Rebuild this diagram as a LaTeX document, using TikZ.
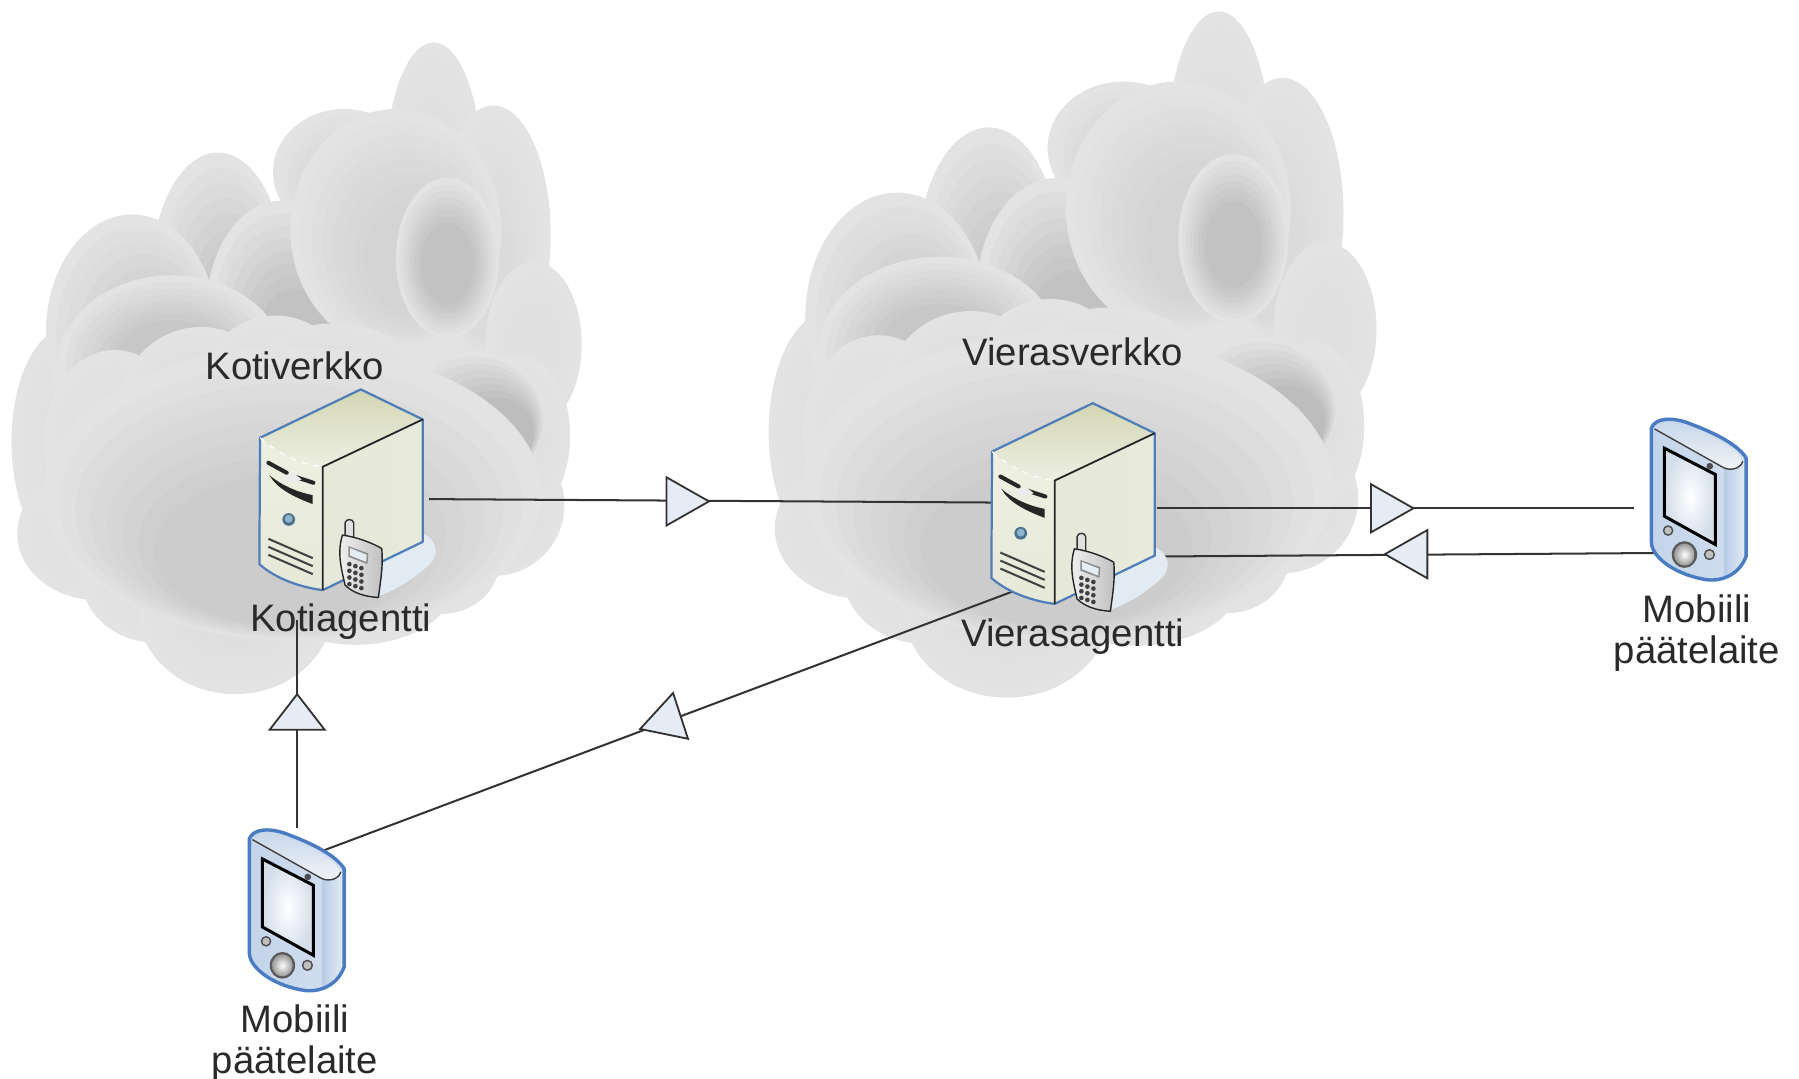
\documentclass[tikz,border=0pt]{standalone}
\usepackage{fontspec}
\setmainfont{Liberation Sans}
\usetikzlibrary{shapes.geometric}
\definecolor{txt}{HTML}{2A2A2A}
\definecolor{wire}{HTML}{333333}
\definecolor{trifill}{HTML}{E6ECF6}
\definecolor{blueedge}{HTML}{4F7DB8}
\definecolor{frontA}{HTML}{EEF0E2}
\definecolor{frontB}{HTML}{E6E9D8}
\definecolor{sideA}{HTML}{E6E9DA}
\definecolor{sideB}{HTML}{E8EBDC}
\definecolor{topA}{HTML}{D3D6B4}
\definecolor{topB}{HTML}{ECEFE2}
\definecolor{knobA}{HTML}{4A6F8A}
\definecolor{knobB}{HTML}{8FB3CC}
\definecolor{pdaA}{HTML}{C3D4EA}
\definecolor{pdaB}{HTML}{D4DFEF}
\definecolor{pdaC}{HTML}{B7CBE6}
\definecolor{pdaD}{HTML}{E6EDF6}
\definecolor{pdaE}{HTML}{C6D6EA}
\definecolor{pdaF}{HTML}{F2F5F7}
\definecolor{pdaG}{HTML}{D4DEEA}
\definecolor{pdaEdge}{HTML}{4A7CC4}
\definecolor{srvShadow}{HTML}{E2EAF3}
\tikzset{
  label text/.style={font=\fontsize{19}{20.1}\selectfont, text=txt, inner sep=0pt, align=center},
  wire line/.style={draw=wire, line width=1pt},
  flow tri/.style={isosceles triangle, isosceles triangle stretches, draw=wire, fill=trifill, line width=0.9pt, inner sep=0pt, minimum width=0.84cm, minimum height=0.74cm, anchor=apex},
}
% lobes: x/y/rx/ry/dx/dy/inner grey; banded off-centre gradient
\newcommand{\lobes}[1]{%
  \foreach \x/\y/\a/\b/\dx/\dy/\c in {#1}{%
    \foreach \i in {0,...,7}{%
      \pgfmathsetmacro{\gr}{11+(\c-11)*\i/7}
      \pgfmathsetmacro{\sc}{1-0.07*\i}
      \fill[black!\gr] (\x+\dx*\i/7,\y+\dy*\i/7) ellipse [x radius=\a*\sc, y radius=\b*\sc];
    }}}
\newcommand{\cloudshape}{%
  \fill[black!11] (250,370) ellipse [x radius=222, y radius=180];
  \lobes{378/150/42/113/0/30/13, 430/205/50/113/-10/30/14, 465/300/42/72/0/0/12,
         60/385/50/100/0/0/12, 85/465/70/58/0/0/12, 135/500/65/60/0/0/12,
         205/530/85/75/0/-20/13, 310/510/85/52/0/-10/13, 385/490/50/45/0/0/12,
         430/440/62/62/0/0/13, 455/380/42/70/0/0/12}
  \lobes{300/150/62/55/15/20/17, 190/240/58/107/18/40/22, 115/290/75/103/25/30/21,
         245/270/65/95/12/30/24, 150/320/100/80/0/0/22}
  \lobes{318/150/30/45/0/0/13, 345/200/92/105/20/25/17, 390/225/45/70/0/5/24}
  \lobes{375/345/30/25/0/0/12, 410/365/65/60/22/12/26}
  \lobes{100/385/62/80/0/0/12, 175/360/72/75/0/0/13, 240/330/60/55/0/0/12, 290/322/70/40/0/0/12,
         255/430/217/128/-10/50/20}
}
% server in zoom coordinates
\newcommand{\serverdetails}{%
  \fill[srvShadow] (450,640) -- (578,580) .. controls (625,600) and (630,650) .. (590,680) .. controls (540,725) and (480,760) .. (420,775) -- cycle;
  \shade[top color=frontA, bottom color=frontB] (90,293) .. controls (150,345) and (220,375) .. (278,380) -- (278,750) .. controls (200,740) and (130,710) .. (88,672) -- cycle;
  \shade[left color=sideA, right color=sideB] (278,380) -- (578,238) -- (578,605) -- (278,750) -- cycle;
  \shade[top color=topA, bottom color=topB] (90,293) -- (392,148) -- (578,238) -- (278,380) .. controls (220,375) and (150,345) .. (90,293) -- cycle;
  \draw[blueedge, line width=1.1pt, line join=round] (278,750) -- (578,605) -- (578,238) -- (392,148) -- (90,293) -- (88,672) .. controls (130,710) and (200,740) .. (278,750);
  \draw[black!85, line width=0.9pt] (578,238) -- (278,380) -- (278,750);
  \draw[white, line width=0.5pt, dashed] (90,293) .. controls (150,345) and (220,375) .. (278,380);
  \draw[black!85, line width=2pt, line cap=round] (115,368) -- (170,398);
  \draw[black!85, line width=2pt, line cap=round] (195,410) -- (250,428);
  \fill[black!85] (118,405) .. controls (160,440) and (210,458) .. (248,465) -- (248,492) .. controls (190,470) and (140,445) .. (118,405) -- cycle;
  \fill[white!85!gray] (150,412) -- (190,398) -- (215,418) -- (185,428) -- cycle;
  \fill[knobA] (176,538) circle [radius=19];
  \fill[knobB] (176,536) circle [radius=12];
  \foreach \dy in {0,24,48}{\draw[black!75, line width=1pt] (115,596+\dy) -- (248,654+\dy);}
  % phone
  \fill[black!12, draw=black!80, line width=0.7pt] (345,590) -- (345,548) .. controls (348,535) and (368,535) .. (371,548) -- (371,595) -- cycle;
  \shade[left color=black!5, right color=black!25, draw=black!85, line width=0.7pt] (337,585) .. controls (380,590) and (430,610) .. (455,625) .. controls (460,680) and (450,730) .. (445,772) .. controls (400,770) and (365,755) .. (345,735) .. controls (335,690) and (320,640) .. (337,585) -- cycle;
  \fill[black!45] (355,618) -- (415,640) -- (412,672) -- (355,650) -- cycle;
  \fill[trifill] (360,624) -- (410,644) -- (408,665) -- (360,646) -- cycle;
  \foreach \i in {0,1,2,3}{\foreach \j in {0,1,2}{\fill[black!75] (358+\j*18,672+\i*20+\j*6) circle [radius=7];}}
}
\newcommand{\pdadetails}{%
  \shade[left color=pdaA, right color=pdaB] (88,115) .. controls (100,85) and (150,80) .. (210,105) .. controls (290,135) and (350,170) .. (372,205) -- (372,500) .. controls (350,560) and (290,580) .. (240,568) .. controls (150,550) and (90,500) .. (88,460) -- cycle;
  \shade[left color=pdaC, right color=pdaD] (305,240) -- (372,215) -- (372,500) .. controls (360,530) and (330,555) .. (305,562) -- cycle;
  \shade[top color=pdaE, bottom color=pdaF] (97,118) .. controls (110,90) and (170,95) .. (220,118) .. controls (290,150) and (345,180) .. (362,215) .. controls (355,240) and (320,245) .. (300,232) -- cycle;
  \draw[black!75, line width=0.7pt] (97,118) -- (300,232) .. controls (320,245) and (355,240) .. (362,215);
  \draw[pdaEdge, line width=1.7pt, line join=round] (88,115) .. controls (100,85) and (150,80) .. (210,105) .. controls (290,135) and (350,170) .. (372,205) -- (372,500) .. controls (350,560) and (290,580) .. (240,568) .. controls (150,550) and (90,500) .. (88,460) -- cycle;
  \shade[inner color=white, outer color=pdaG] (130,180) -- (278,255) -- (278,462) -- (130,382) -- cycle;
  \draw[black, line width=1.5pt, line join=miter] (127,176) -- (280,255) -- (280,465) -- (127,380) -- cycle;
  \fill[black!70] (263,230) circle [radius=10];
  \foreach \x/\y/\a/\b in {138/423/16/16, 262/495/17/17}{\fill[black!70] (\x,\y) ellipse [x radius=\a, y radius=\b]; \fill[black!25] (\x,\y) ellipse [x radius=\a-5, y radius=\b-5];}
  \fill[black!65] (187,495) ellipse [x radius=38, y radius=40];
  \shade[inner color=white, outer color=black!40] (187,495) ellipse [x radius=31, y radius=33];
}
\begin{document}
\begin{tikzpicture}[x=0.02cm, y=-0.02cm]
\useasboundingbox (0,0) rectangle (1568,940.4);
\fill[white] (0,0) rectangle (1568,940.4);
% clouds
\begin{scope}
  \cloudshape
\end{scope}
\begin{scope}[shift={(659.3,-29)}, xscale=1.066, yscale=1.053]
  \cloudshape
\end{scope}
% anchors of connectors
\coordinate (homeE) at (374,435);
\coordinate (foreignW) at (866,438);
\coordinate (foreignE) at (1008,443);
\coordinate (foreignSE) at (1014,485);
\coordinate (foreignSW) at (884,515);
\coordinate (pdaRa) at (1424,443);
\coordinate (pdaRb) at (1442,482);
\coordinate (pdaLn) at (259,722);
\coordinate (pdaLe) at (280,742);
\coordinate (homeS) at (259,540);
% texts
\node[label text] (kotiverkko) at (257,319) {Kotiverkko};
\node[label text] (kotiagentti) at (297,542) {Kotiagentti};
\node[label text] (vierasverkko) at (935,307) {Vierasverkko};
\node[label text] (vierasagentti) at (935,555) {Vierasagentti};
\node[label text] (mobR) at (1479,552) {Mobiili\\[0pt]päätelaite};
\node[label text] (mobL) at (257,909) {Mobiili\\[0pt]päätelaite};
% connectors
\draw[wire line] (homeE) -- (foreignW);
\draw[wire line] (foreignE) -- (pdaRa);
\draw[wire line] (pdaRb) -- (foreignSE);
\draw[wire line] (pdaLn) -- (homeS);
\draw[wire line] (pdaLe) -- (foreignSW);
% triangles
\node[flow tri] (t1) at (620,437) {};
\node[flow tri] (t2) at (1234,443) {};
\node[flow tri, rotate=180] (t3) at (1205,483) {};
\node[flow tri, rotate=90, minimum width=0.96cm, minimum height=0.62cm] (t4) at (259,603) {};
\node[flow tri, rotate=198] (t5) at (556,636) {};
% servers
\begin{scope}[shift={(200.5,296.4)}, x=0.00581cm, y=-0.00581cm]
  \serverdetails
\end{scope}
\begin{scope}[shift={(838.5,308.4)}, x=0.00581cm, y=-0.00581cm]
  \serverdetails
\end{scope}
% PDAs
\begin{scope}[shift={(191.8,697.5)}, x=0.00581cm, y=-0.00581cm]
  \pdadetails
\end{scope}
\begin{scope}[shift={(1413.8,339.5)}, x=0.00581cm, y=-0.00581cm]
  \pdadetails
\end{scope}
\end{tikzpicture}
\end{document}
